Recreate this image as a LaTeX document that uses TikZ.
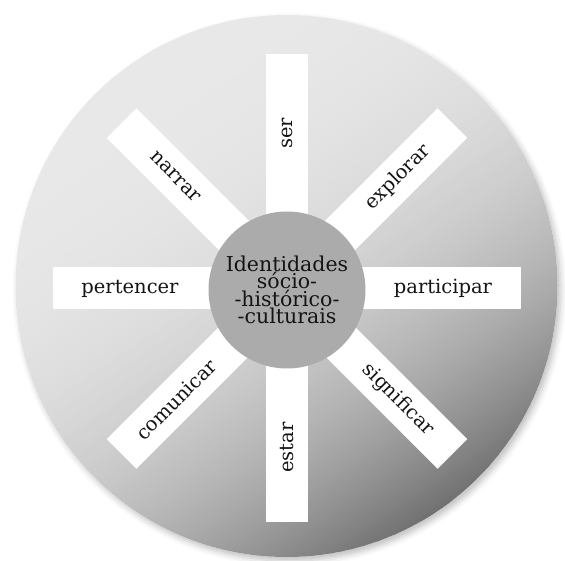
\documentclass[tikz,border=0pt]{standalone}
\usepackage{fontspec}
\setmainfont{DejaVu Serif}
\usetikzlibrary{shadows.blur}
\begin{document}
\begin{tikzpicture}[x=1pt,y=1pt,
  bar/.style={fill=white,draw=none},
  lbl/.style={font=\fontsize{19.5}{20}\selectfont,text=black!92,inner sep=0pt,anchor=center},
  hub/.style={circle,fill=black!33,minimum size=157pt,inner sep=0pt,
    font=\fontsize{20.5}{17.5}\selectfont,text=black!92,align=center}]
\useasboundingbox (-287,-272.5) rectangle (278,288.5);
% disc with shadow
\fill[white,blur shadow={shadow xshift=3pt,shadow yshift=-4pt,shadow blur radius=6pt,shadow opacity=25}]
  (-0.5,2.5) circle[radius=271];
\begin{scope}
  \clip (-0.5,2.5) circle[radius=271];
  \foreach \u in {-280,-276,...,276} {
    \pgfmathsetmacro\pp{9+50*((\u+282)/562)^2.7}
    \fill[black!\pp,rotate=-56] (\u,-300) rectangle (\u+4.6,300);
  }
\end{scope}
% bars
\foreach \a in {0,45,90,135}
  \fill[bar,rotate=\a] (-234,-21) rectangle (234,21);
% hub
\node[hub] (c) at (0,-1.5) {Identidades\\sócio-\\-histórico-\\-culturais};
% labels
\node[lbl,rotate=90]  (ser)  at (90:155)  {ser};
\node[lbl,rotate=45]  (exp)  at (45:157)  {explorar};
\node[lbl]            (par)  at (0:156)   {participar};
\node[lbl,rotate=-45] (sig)  at (-45:157) {significar};
\node[lbl,rotate=90]  (est)  at (-90:159) {estar};
\node[lbl,rotate=45]  (com)  at (225:157) {comunicar};
\node[lbl]            (per)  at (180:157) {pertencer};
\node[lbl,rotate=-45] (nar)  at (135:158) {narrar};
\end{tikzpicture}
\end{document}
